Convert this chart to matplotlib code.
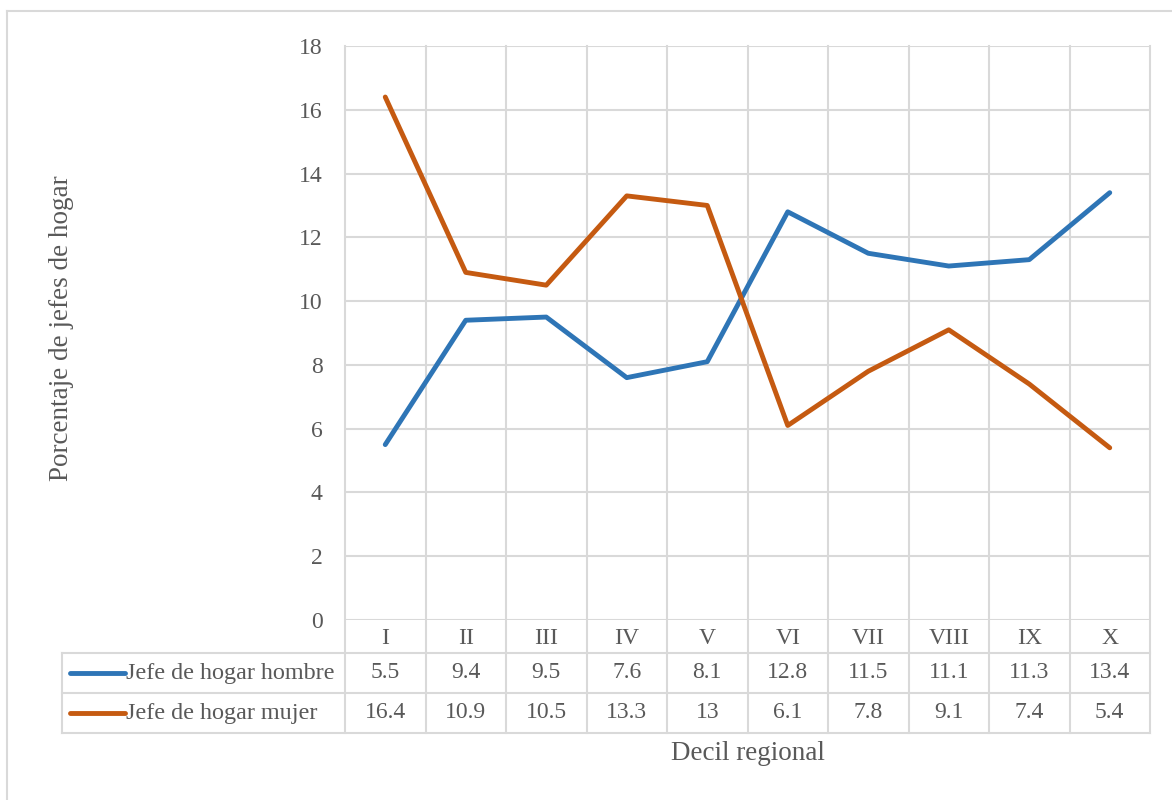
import matplotlib.pyplot as plt
from matplotlib.lines import Line2D
import matplotlib.transforms as mtransforms

deciles = ["I", "II", "III", "IV", "V", "VI", "VII", "VIII", "IX", "X"]
hombre = [5.5, 9.4, 9.5, 7.6, 8.1, 12.8, 11.5, 11.1, 11.3, 13.4]
mujer = [16.4, 10.9, 10.5, 13.3, 13, 6.1, 7.8, 9.1, 7.4, 5.4]
series = [("Jefe de hogar hombre", hombre, "#2E75B6"),
          ("Jefe de hogar mujer", mujer, "#C55A11")]
yticks = [0, 2, 4, 6, 8, 10, 12, 14, 16, 18]

plt.rcParams['font.family'] = ['Liberation Serif', 'DejaVu Serif']
txt = "#595959"
grid = "#D9D9D9"
fs = 17
fs_leg = 17.4
fs_title = 19.5
lw = 3.5

fig = plt.figure(figsize=(11.72, 8), dpi=100)
W, H = 1172, 800
# plot area in pixels: x 345-1150, y 46-620
ax = fig.add_axes([345 / W, 1 - 620 / H, 805 / W, 574 / H])

x = list(range(len(deciles)))
for name, vals, col in series:
    ax.plot(x, vals, color=col, lw=lw, solid_capstyle='round', solid_joinstyle='round', zorder=3)

ax.set_xlim(-0.5, len(deciles) - 0.5)
ax.set_ylim(0, 18)
ax.set_yticks(yticks)
ax.set_yticklabels([str(v) for v in yticks], fontsize=fs, color=txt)
ax.tick_params(axis='y', length=0, pad=16)
ax.set_xticks([])
for s in ax.spines.values():
    s.set_visible(False)
for v in yticks:
    ax.axhline(v, color=grid, lw=1.5, zorder=1)

# data table below the axes
px = 1 / 574  # one pixel in axes fraction (vertical)
trans = mtransforms.blended_transform_factory(ax.transData, ax.transAxes)
row_cat = -18 * px
row_top = -33 * px
row_mid = -73 * px
row_bot = -113 * px
left_edge = (62 - 345) / 805
for i in range(len(deciles) + 1):
    ax.add_line(Line2D([i - 0.5, i - 0.5], [1, row_bot], transform=trans,
                       color=grid, lw=1.5, clip_on=False, zorder=1))
for yy in [row_top, row_mid, row_bot]:
    ax.add_line(Line2D([left_edge, 1], [yy, yy], transform=ax.transAxes,
                       color=grid, lw=1.5, clip_on=False, zorder=1))
ax.add_line(Line2D([left_edge] * 2, [row_top, row_bot], transform=ax.transAxes,
                   color=grid, lw=1.5, clip_on=False, zorder=1))

for i, lab in enumerate(deciles):
    ax.text(i, row_cat, lab, transform=trans, ha='center', va='center',
            fontsize=fs, color=txt)

row_centers = [(row_top + row_mid) / 2, (row_mid + row_bot) / 2]
for (name, vals, col), yc in zip(series, row_centers):
    for i, v in enumerate(vals):
        ax.text(i, yc, f"{v:g}", transform=trans, ha='center', va='center',
                fontsize=fs, color=txt)
    ax.add_line(Line2D([(70 - 345) / 805, (125 - 345) / 805], [yc, yc],
                       transform=ax.transAxes, color=col, lw=lw,
                       solid_capstyle='round', clip_on=False))
    ax.text((126 - 345) / 805, yc, name, transform=ax.transAxes, ha='left',
            va='center', fontsize=fs_leg, color=txt)

fig.text(748 / W, 1 - 754 / H, "Decil regional", ha='center', va='center',
         fontsize=fs_title, color=txt)
fig.text(62 / W, 1 - 328 / H, "Porcentaje de jefes de hogar", ha='center',
         va='center', rotation=90, fontsize=fs_title, color=txt)

# outer chart border (top and left)
fig.add_artist(Line2D([7 / W, 1], [1 - 11 / H, 1 - 11 / H], color=grid, lw=1.5))
fig.add_artist(Line2D([7 / W, 7 / W], [0, 1 - 11 / H], color=grid, lw=1.5))

fig.savefig("out.png", dpi=100)
